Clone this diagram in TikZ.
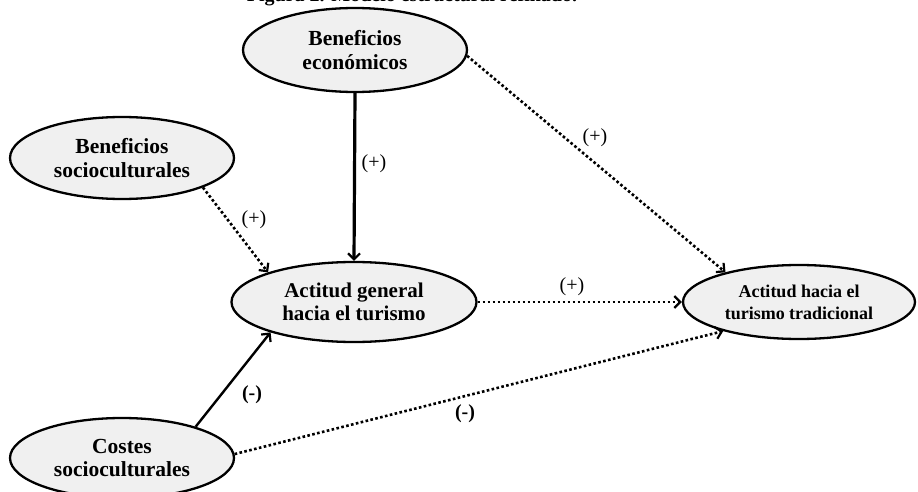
\documentclass[tikz,border=0pt]{standalone}
\usepackage{fontspec}
\setmainfont{Liberation Serif}
\usetikzlibrary{shapes.geometric,arrows.meta}
\definecolor{nodefill}{HTML}{F0F0F0}
\begin{document}
\begin{tikzpicture}[x=1pt,y=-1pt,
  lat/.style={ellipse,draw=black,line width=2.3pt,fill=nodefill,inner sep=0pt,
    align=center,font=\bfseries\fontsize{21.5}{23.5}\selectfont},
  lab/.style={font=\fontsize{20}{22}\selectfont,inner sep=0pt},
  labb/.style={font=\bfseries\fontsize{20}{22}\selectfont,inner sep=0pt},
  tip/.style={-{Straight Barb[length=6pt,width=12pt,line width=2.2pt]}},
  solidarrow/.style={tip,line width=2.4pt},
  dotarrow/.style={tip,line width=2.6pt,dash pattern=on 2.6pt off 2.4pt}]
\useasboundingbox (0,0) rectangle (918,492);
\fill[white] (0,0) rectangle (918,492);
\node[font=\bfseries\fontsize{20}{23}\selectfont,anchor=base,inner sep=0pt] (title) at (412,1.5) {Figura 2. Modelo estructural refinado.};
\node[lat,minimum width=224pt,minimum height=84pt] (econ) at (355,50) {Beneficios\\econ\'omicos};
\node[lat,minimum width=224pt,minimum height=82pt] (socio) at (122,158) {Beneficios\\socioculturales};
\node[lat,minimum width=245pt,minimum height=80pt,font=\bfseries\fontsize{21}{23.5}\selectfont] (gen) at (354,302) {Actitud general\\hacia el turismo};
\node[lat,minimum width=232pt,minimum height=74pt,font=\bfseries\fontsize{18}{22}\selectfont] (trad) at (799,302) {Actitud hacia el\\turismo tradicional};
\node[lat,minimum width=224pt,minimum height=80pt] (cost) at (122,458) {Costes\\socioculturales};
\draw[solidarrow,line width=3.2pt] (econ.south) -- (gen.north);
\draw[dotarrow] (socio.-20.6) -- (gen.161);
\draw[dotarrow] (econ.-3) -- (trad.158.7);
\draw[dotarrow] (gen.east) -- (trad.west);
\draw[solidarrow] (cost.23) -- (gen.-160);
\draw[dotarrow] (cost.2) -- (trad.-159);
\node[lab] (l1) at (374,164) {(+)};
\node[lab] (l2) at (254,220) {(+)};
\node[lab] (l3) at (595,138) {(+)};
\node[lab] (l4) at (572,287) {(+)};
\node[labb] (l5) at (252,395) {(-)};
\node[labb] (l6) at (465,414) {(-)};
\end{tikzpicture}
\end{document}
